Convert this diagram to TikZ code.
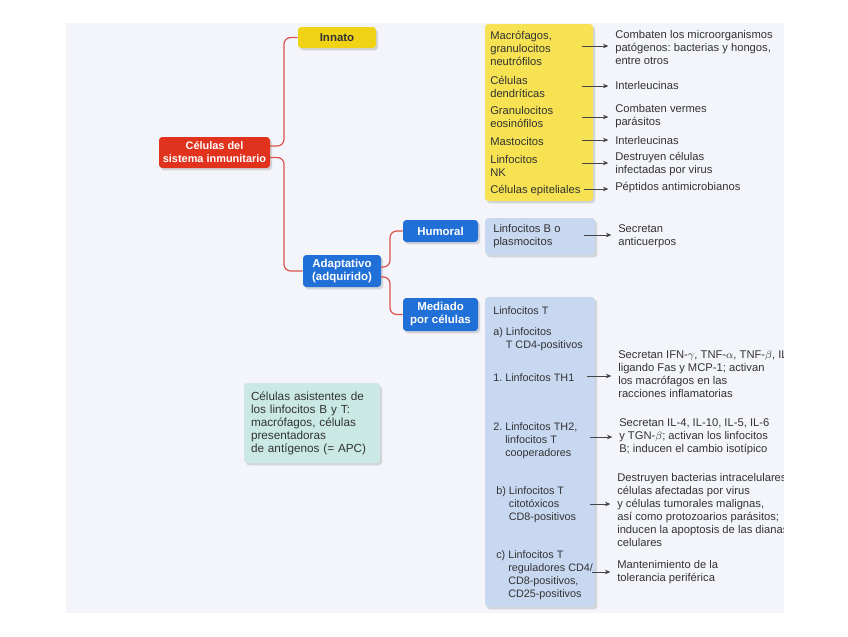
\documentclass[tikz,border=0pt]{standalone}
\usepackage{fontspec}
\setmainfont{Liberation Sans}
\usetikzlibrary{shadows,arrows.meta}
\definecolor{pagebg}{HTML}{F3F5FA}
\definecolor{redc}{HTML}{E1321E}
\definecolor{innc}{HTML}{F1D315}
\definecolor{yelc}{HTML}{F6E252}
\definecolor{bluec}{HTML}{2070D8}
\definecolor{lbluec}{HTML}{C7D8F0}
\definecolor{tealc}{HTML}{CAE9E4}
\definecolor{connc}{HTML}{D9534A}
\definecolor{textc}{HTML}{333333}
\definecolor{arrc}{HTML}{444444}
\frenchspacing
\begin{document}
\begin{tikzpicture}[x=0.75pt,y=-0.75pt,
  box/.style={rounded corners=2.5pt, inner sep=0pt,
    drop shadow={shadow xshift=1.5pt,shadow yshift=-1.8pt,opacity=0.28}},
  head/.style={box, font=\fontsize{8.6}{9.75}\selectfont\bfseries, align=center, text=white},
  txt/.style={font=\fontsize{8.4}{9.75}\selectfont, align=left, inner sep=0pt, anchor=west, text=textc},
  ltxt/.style={txt, font=\fontsize{8.1}{9.75}\selectfont},
  conn/.style={draw=connc, line width=0.9pt, rounded corners=5pt},
  arr/.style={draw=arrc, line width=0.5pt, shorten >=5pt, -{Stealth[length=4pt,width=3.4pt]}}]
\useasboundingbox (0,0) rectangle (848,636);
\fill[white] (0,0) rectangle (848,636);
\fill[pagebg] (66,23) rectangle (784,613);

% connector start points
\coordinate (c1) at (270,146);
\coordinate (c2) at (270,157.5);
\coordinate (c3) at (381,267);
\coordinate (c4) at (381,277);

% big boxes
\node[box, fill=yelc, minimum width=81pt, minimum height=132.75pt] (yel) at (539,112.5) {};
\node[box, fill=lbluec, minimum width=82.5pt, minimum height=27.75pt] (bbox) at (540,236.5) {};
\node[box, fill=lbluec, minimum width=82.5pt, minimum height=232.5pt] (tbox) at (540,452) {};
\node[box, fill=tealc, text width=91.5pt, inner xsep=5.25pt, minimum height=60pt, align=left,
  font=\fontsize{8.8}{9.75}\selectfont, text=textc] (apc) at (312,423)
  {Células asistentes de\\los linfocitos B y T:\\macrófagos, células\\presentadoras\\de antígenos (= APC)};

% heading nodes
\node[head, fill=redc, font=\fontsize{8.2}{9.75}\selectfont\bfseries, minimum width=83.25pt, minimum height=23.25pt] (cel) at (214.5,152.5) {Células del\\sistema inmunitario};
\node[head, fill=innc, text=textc, minimum width=58.5pt, minimum height=15.75pt] (inn) at (337,37.5) {Innato};
\node[head, fill=bluec, minimum width=58.5pt, minimum height=24pt] (ada) at (342,271) {Adaptativo\\(adquirido)};
\node[head, fill=bluec, minimum width=56.25pt, minimum height=16.5pt] (hum) at (440.5,231) {Humoral};
\node[head, fill=bluec, minimum width=56.25pt, minimum height=24.75pt] (med) at (440.5,314.5) {Mediado\\por células};

\draw[conn] (c1) -- ++(14,0) |- (inn.west);
\draw[conn] (c2) -- ++(14,0) |- (ada.west);
\draw[conn] (c3) -- ++(9,0) |- (hum.west);
\draw[conn] (c4) -- ++(9,0) |- (med.west);

% innate items
\node[txt] (l1) at (490,48) {Macrófagos,\\granulocitos\\neutrófilos};
\node[txt] (l2) at (490,86.5) {Células\\dendríticas};
\node[txt] (l3) at (490,117) {Granulocitos\\eosinófilos};
\node[txt] (l4) at (490,141) {Mastocitos};
\node[txt] (l5) at (490,166) {Linfocitos\\NK};
\node[txt] (l6) at (490,190.5) {Células epiteliales};

% adaptive items
\node[txt] (lb) at (493,236.5) {Linfocitos B o\\plasmocitos};
\node[ltxt] (lt0) at (493,311) {Linfocitos T};
\node[ltxt] (lta) at (493,339.5) {a) Linfocitos\\\phantom{a) }T CD4-positivos};
\node[ltxt] (lt1) at (493,378) {1. Linfocitos TH1};
\node[ltxt] (lt2) at (493,440.5) {2. Linfocitos TH2,\\\phantom{2. }linfocitos T\\\phantom{2. }cooperadores};
\node[ltxt] (ltb) at (496,505) {b) Linfocitos T\\\phantom{b) }citotóxicos\\\phantom{b) }CD8-positivos};
\node[ltxt] (ltc) at (496,575.5) {c) Linfocitos T\\\phantom{c) }reguladores CD4/\\\phantom{c) }CD8-positivos,\\\phantom{c) }CD25-positivos};

% right-hand texts, clipped at the page edge
\begin{scope}
\clip (66,23) rectangle (783.5,613);
\node[txt] (r1) at (615,47) {Combaten los microorganismos\\patógenos: bacterias y hongos,\\entre otros};
\node[txt] (r2) at (615,85) {Interleucinas};
\node[txt] (r3) at (615,116) {Combaten vermes\\parásitos};
\node[txt] (r4) at (615,140) {Interleucinas};
\node[txt] (r5) at (615,164) {Destruyen células\\infectadas por virus};
\node[txt] (r6) at (615,188) {Péptidos antimicrobianos};
\node[txt] (rb) at (618,236) {Secretan\\anticuerpos};
\node[txt] (rt1) at (618,374) {Secretan IFN-$\gamma$, TNF-$\alpha$, TNF-$\beta$, IL-2,\\ligando Fas y MCP-1; activan\\los macrófagos en las\\racciones inflamatorias};
\node[txt] (rt2) at (619,437) {Secretan IL-4, IL-10, IL-5, IL-6\\y TGN-$\beta$; activan los linfocitos\\B; inducen el cambio isotípico};
\node[txt] (rtb) at (617,510) {Destruyen bacterias intracelulares,\\células afectadas por virus\\y células tumorales malignas,\\así como protozoarios parásitos;\\inducen la apoptosis de las dianas\\celulares};
\node[txt] (rtc) at (617,572.5) {Mantenimiento de la\\tolerancia periférica};
\end{scope}

% arrows
\coordinate (a1) at (582,46);
\coordinate (a2) at (582,86);
\coordinate (a3) at (582,117);
\coordinate (a4) at (582,140);
\coordinate (a5) at (582,163);
\coordinate (a6) at (584,189);
\coordinate (ab) at (584,235);
\coordinate (at1) at (587,376);
\coordinate (at2) at (590,437);
\coordinate (atb) at (590,504);
\coordinate (atc) at (592,572);
\draw[arr] (a1) -- (a1 -| r1.west);
\draw[arr] (a2) -- (a2 -| r2.west);
\draw[arr] (a3) -- (a3 -| r3.west);
\draw[arr] (a4) -- (a4 -| r4.west);
\draw[arr] (a5) -- (a5 -| r5.west);
\draw[arr] (a6) -- (a6 -| r6.west);
\draw[arr] (ab) -- (ab -| rb.west);
\draw[arr] (at1) -- (at1 -| rt1.west);
\draw[arr] (at2) -- (at2 -| rt2.west);
\draw[arr] (atb) -- (atb -| rtb.west);
\draw[arr] (atc) -- (atc -| rtc.west);
\end{tikzpicture}
\end{document}
